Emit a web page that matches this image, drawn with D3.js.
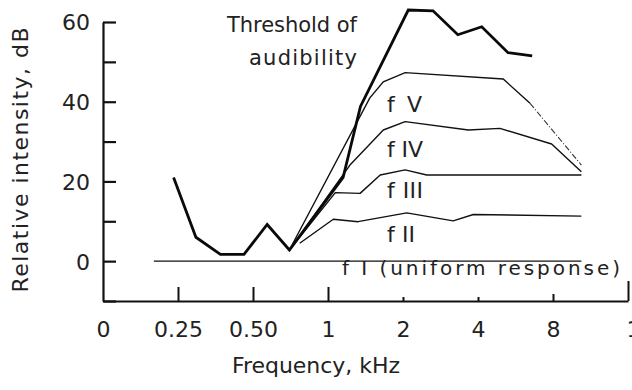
<!DOCTYPE html>
<html>
<head>
<meta charset="utf-8">
<script src="https://cdn.jsdelivr.net/npm/d3@7/dist/d3.min.js"></script>
<style>
  html, body { margin: 0; padding: 0; background: #fff; }
  svg { display: block; }
  text { font-family: "DejaVu Sans", sans-serif; fill: #222; }
</style>
</head>
<body>
<svg id="chart" width="632" height="390"></svg>
<script>
// Frequency (kHz) and relative intensity (dB) for each response curve
const thresholdFreq = [0.24, 0.295, 0.37, 0.46, 0.57, 0.70, 1.15, 1.35, 2.1, 2.64, 3.32, 4.14, 5.28, 6.6];
const thresholdDb   = [21, 6, 1.7, 1.7, 9.2, 2.8, 21, 38.8, 63, 62.8, 56.8, 58.8, 52.3, 51.5];

const f1Freq = [0.2, 10.4];
const f1Db   = [0, 0];

const f2Freq = [0.77, 1.05, 1.32, 2.07, 3.18, 3.83, 10.4];
const f2Db   = [4.5, 10.5, 9.9, 12.1, 10.1, 11.7, 11.3];

const f3Freq = [0.70, 1.07, 1.345, 1.62, 2.04, 2.49, 10.4];
const f3Db   = [2.8, 17.2, 17.0, 21.6, 22.9, 21.6, 21.6];

const f4Freq = [0.70, 1.225, 1.667, 2.04, 3.66, 4.9, 7.9, 10.4];
const f4Db   = [2.8, 24.1, 32.9, 35.0, 32.9, 33.3, 29.4, 22.4];

const f5Freq = [0.70, 1.47, 1.667, 2.04, 5.05, 6.47, 10.4];
const f5Db   = [2.8, 40.9, 45.0, 47.3, 45.7, 39.6, 24.1];

// Axis ticks and labels
const xTickValues = [0.125, 0.25, 0.5, 1, 2, 4, 8, 16];
const xTickLabels = ["0", "0.25", "0.50", "1", "2", "4", "8", "16"];
const yTickValues = [-10, 0, 10, 20, 30, 40, 50, 60];
const yTickLabels = ["", "0", "", "20", "", "40", "", "60"];

const svg = d3.select("#chart");

const x = d3.scaleLog().base(2).domain([0.125, 16]).range([103, 628]);
const y = d3.scaleLinear().domain([-10, 60]).range([301, 22]);

const zip = (fs, ds) => fs.map((f, i) => ({ f, d: ds[i] }));
const line = d3.line().x(p => x(p.f)).y(p => y(p.d));

// Y axis: ticks point inward, labels on 20 dB steps
const yAxis = d3.axisLeft(y)
  .tickValues(yTickValues)
  .tickSizeInner(-13)
  .tickSizeOuter(0)
  .tickPadding(13)
  .tickFormat((d, i) => yTickLabels[i]);
const gy = svg.append("g").attr("transform", `translate(${x(0.125)},0)`).call(yAxis);
gy.select(".domain").attr("stroke", "#111").attr("stroke-width", 2.2);
gy.selectAll(".tick line").attr("stroke", "#111").attr("stroke-width", 2.2);
gy.selectAll(".tick text").attr("font-size", 22).attr("fill", "#222").attr("dy", "0.36em");

// X axis: octave spacing, upward ticks of varying length
const xTickLen = { 0.125: 0, 0.25: 14, 0.5: 14, 1: 14, 2: 4, 4: 4, 8: 7, 16: 20 };
const xAxis = d3.axisBottom(x)
  .tickValues(xTickValues)
  .tickSizeInner(0)
  .tickSizeOuter(0)
  .tickPadding(20)
  .tickFormat((d, i) => xTickLabels[i]);
const gx = svg.append("g").attr("transform", `translate(0,${y(-10)})`).call(xAxis);
gx.select(".domain").attr("stroke", "#111").attr("stroke-width", 2.2);
gx.selectAll(".tick line")
  .attr("y2", d => -xTickLen[d])
  .attr("stroke", "#111").attr("stroke-width", 2);
gx.selectAll(".tick text")
  .attr("font-size", 22).attr("fill", "#222")
  .attr("dx", d => d === 16 ? 12 : 0);

// Response curves
const thin = [
  zip(f1Freq, f1Db),
  zip(f2Freq, f2Db),
  zip(f3Freq, f3Db),
  zip(f4Freq, f4Db),
];
svg.append("g").selectAll("path").data(thin).join("path")
  .attr("d", line)
  .attr("fill", "none").attr("stroke", "#111").attr("stroke-width", 1.4)
  .attr("stroke-linejoin", "round");

// f V: solid up to its roll-off, broken afterwards
const f5 = zip(f5Freq, f5Db);
svg.append("path").attr("d", line(f5.slice(0, f5.length - 1)))
  .attr("fill", "none").attr("stroke", "#111").attr("stroke-width", 1.4);
svg.append("path").attr("d", line(f5.slice(f5.length - 2)))
  .attr("fill", "none").attr("stroke", "#333").attr("stroke-width", 1.1)
  .attr("stroke-dasharray", "6,2,1,2");

// Threshold of audibility (heavy line)
svg.append("path").attr("d", line(zip(thresholdFreq, thresholdDb)))
  .attr("fill", "none").attr("stroke", "#0a0a0a").attr("stroke-width", 2.8)
  .attr("stroke-linejoin", "miter");

// Labels
const label = (t, px, py, size, len) => {
  const el = svg.append("text").attr("x", px).attr("y", py)
    .attr("font-size", size).text(t);
  if (len) el.attr("textLength", len).attr("lengthAdjust", "spacing");
  return el;
};
label("Threshold of", 227, 32, 21, 130);
label("audibility", 249, 65, 21, 108);
label("f V", 387, 112, 22, 35);
label("f IV", 387, 157, 22, 36);
label("f III", 387, 198, 22, 36);
label("f II", 387, 242, 22, 28);
label("f I (uniform response)", 342, 275, 20, 278);

// Axis titles
label("Frequency, kHz", 232, 373, 22, 168);
svg.append("text")
  .attr("transform", "translate(28,160) rotate(-90)")
  .attr("text-anchor", "middle")
  .attr("font-size", 22)
  .attr("textLength", 265).attr("lengthAdjust", "spacing")
  .text("Relative intensity, dB");
</script>
</body>
</html>
